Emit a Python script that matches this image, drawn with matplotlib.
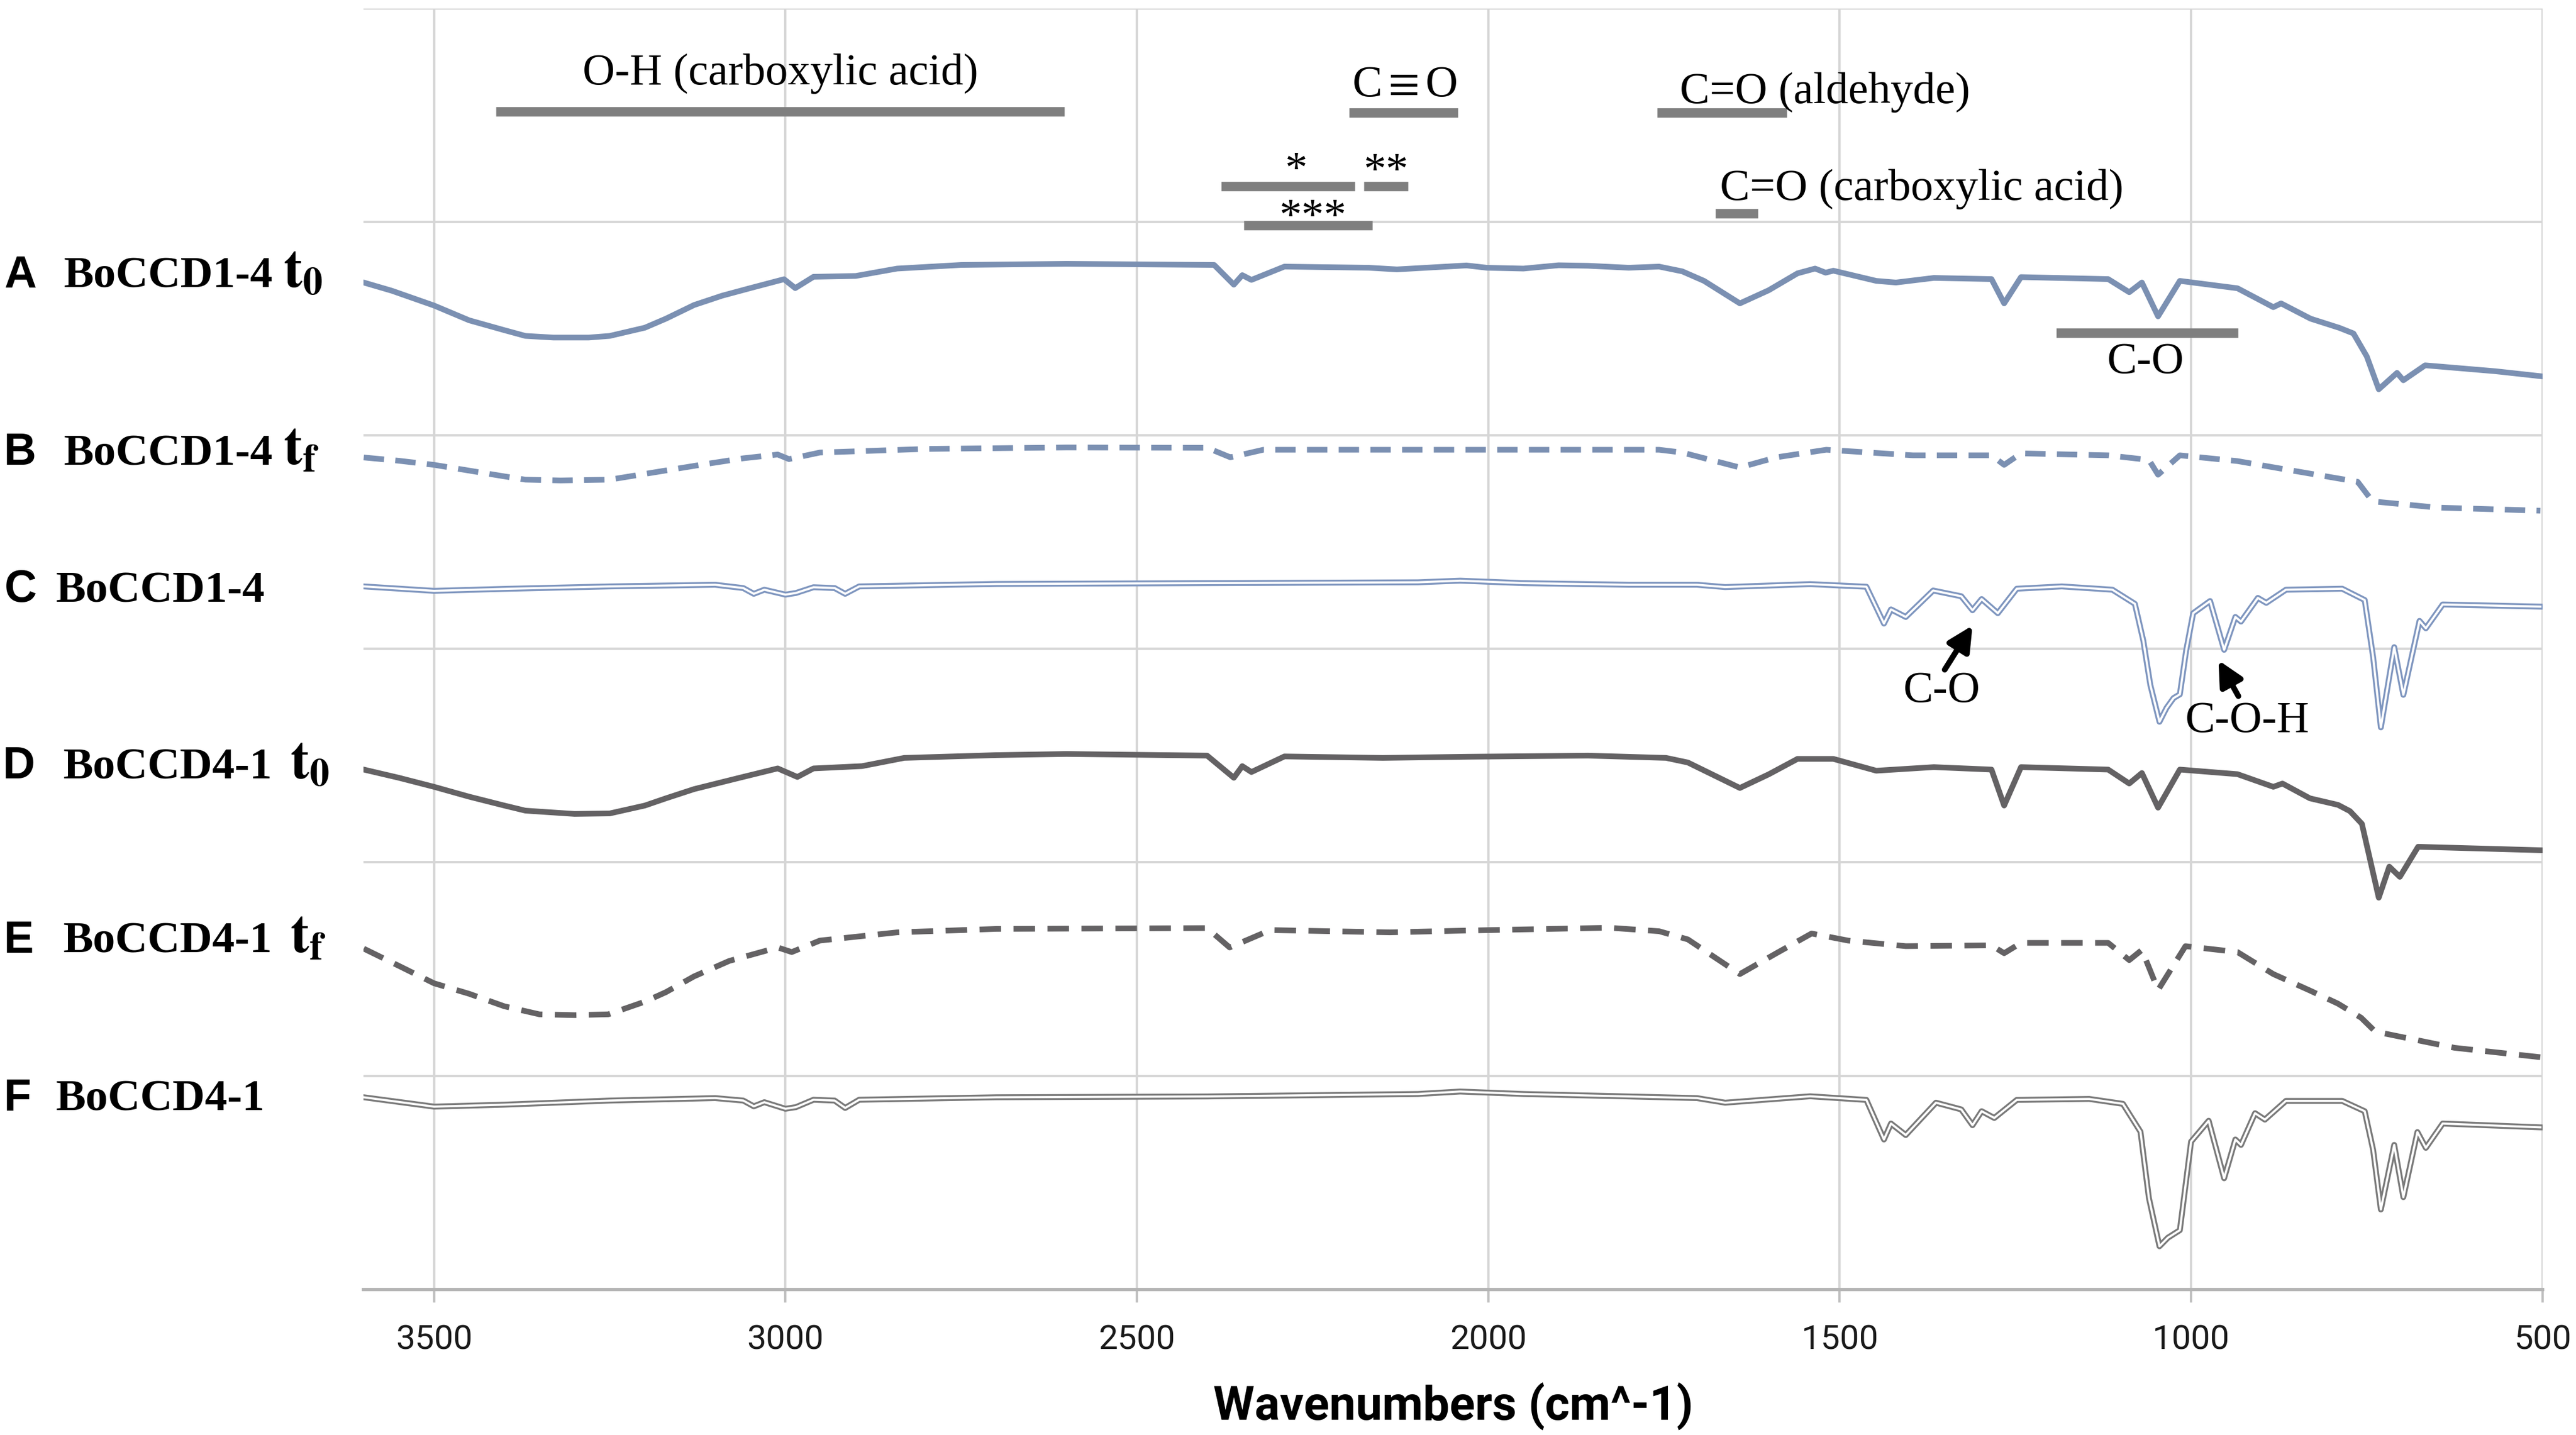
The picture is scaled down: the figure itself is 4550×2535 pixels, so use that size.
import numpy as np
import matplotlib.pyplot as plt

plt.rcParams["mathtext.fontset"] = "stix"

# FTIR spectra, stacked (wavenumber in cm^-1, offset signal in arbitrary units)
a_wn = [3600, 3560, 3500, 3450, 3400, 3370, 3330, 3280, 3250, 3200, 3170, 3130, 3090, 3050,
        3011, 3002, 2986, 2960, 2900, 2841, 2750, 2600, 2390, 2362, 2350, 2337, 2290, 2170,
        2130, 2031, 2002, 1950, 1900, 1858, 1800, 1757, 1724, 1693, 1642, 1601, 1560, 1535,
        1520, 1509, 1448, 1420, 1366, 1284, 1266, 1242, 1118, 1088, 1070, 1047, 1016, 934, 883,
        872, 830, 789, 769, 750, 733, 707, 698, 667, 567, 503]
a_y = [613, 608, 599, 590, 584, 580.5, 579.5, 579.5, 580.5, 585.5, 591, 599.3, 605, 609.6,
       614, 615, 609.6, 616.5, 617, 621.5, 623.7, 624.4, 623.7, 611.7, 617.5, 614.6, 622.7, 622,
       621, 623.4, 622, 621.5, 623.5, 623.2, 622, 622.7, 619.8, 614, 600.3, 608.3, 618.6, 621.5,
       619, 620.2, 614, 613, 615.8, 615.1, 600.3, 616.3, 615.1, 607.1, 613, 592.4, 614, 609.5, 598,
       600.3, 591, 585.4, 582, 568, 548, 558, 553.5, 562.6, 559, 556]

b_wn = [3600, 3550, 3500, 3450, 3400, 3370, 3320, 3250, 3200, 3121, 3060, 3011, 2995, 2951,
        2800, 2600, 2400, 2367, 2320, 2031, 1757, 1724, 1642, 1590, 1519, 1396, 1284, 1266,
        1242, 1118, 1060, 1047, 1016, 934, 872, 763, 743, 735, 650, 503]
b_y = [506.5, 504.5, 502, 498.5, 495, 493, 492.5, 493, 496.5, 502, 506, 508.3, 505.5, 509.5,
       511.7, 512.6, 512.4, 506.6, 511.2, 511.2, 511.2, 509.5, 500.4, 506.6, 511.2, 507.8, 507.8, 502,
       509, 507.8, 505, 496, 507.8, 504.3, 499.7, 491.7, 480.4, 479.5, 476, 474.1]

c_wn = [3600, 3500, 3400, 3250, 3100, 3060, 3045, 3030, 3000, 2985, 2960, 2930, 2915, 2895,
        2700, 2400, 2100, 2040, 1950, 1800, 1703, 1663, 1542, 1462, 1437, 1427, 1406, 1367,
        1327, 1311, 1298, 1275, 1248, 1184, 1112, 1080, 1068, 1058, 1045, 1035, 1025, 1016,
        1007, 997, 973, 953, 937, 929, 905, 893, 865, 785, 753, 741, 730, 711, 698, 675, 666,
        642, 503]
c_y = [428, 425.3, 426.5, 428, 429, 427, 423.5, 426, 423, 424, 427.5, 427, 423.5, 428,
       429.5, 430, 430.5, 431.5, 430, 429, 429, 427.6, 429.4, 427.8, 405.4, 414, 409.4, 425.5,
       422, 413.5, 420.3, 411.7, 426.6, 428, 426, 417.4, 395, 368, 345.6, 354, 360, 362.3,
       389, 411.7, 419.1, 389.4, 409.4, 406.6, 421, 418, 426, 426.6, 419.7, 385, 342.2, 391, 362, 407, 402.5,
       417, 415.7]

d_wn = [3600, 3550, 3500, 3450, 3400, 3370, 3300, 3250, 3200, 3170, 3130, 3070, 3011, 2983,
        2960, 2891, 2831, 2700, 2600, 2400, 2362, 2350, 2337, 2290, 2150, 2031, 1858, 1747,
        1716, 1642, 1601, 1560, 1509, 1448, 1366, 1284, 1266, 1242, 1118, 1088, 1070, 1047,
        1016, 934, 883, 870, 831, 791, 774, 757, 733, 718, 703, 677, 503]
d_y = [316.5, 311.5, 306, 300, 294.6, 291.5, 289.5, 289.8, 294.6, 299, 304.6, 311, 317.2, 312,
       317.2, 318.6, 323.6, 325.3, 326, 325, 311.5, 318.6, 315, 324.5, 323.6, 324.3, 325, 323.6,
       320.8, 305.3, 313.6, 323, 323, 315.8, 318, 316.5, 294.6, 318, 316.5, 308, 314.4, 293.3,
       316.5, 313.7, 306, 308, 299, 295, 291.2, 283.5, 238.5, 257.4, 251.2, 269.5, 267.4]

e_wn = [3600, 3550, 3500, 3450, 3400, 3350, 3300, 3252, 3200, 3170, 3130, 3080, 3011, 2991,
        2951, 2841, 2700, 2400, 2368, 2310, 2140, 2031, 1828, 1757, 1716, 1642, 1590, 1540,
        1488, 1406, 1284, 1266, 1242, 1118, 1088, 1070, 1047, 1008, 934, 883, 831, 791, 758,
        738, 625, 503]
e_y = [207.5, 197, 186.4, 180, 172.4, 167.5, 167, 167.5, 175.2, 181, 190.6, 200, 208.2, 205.4,
       212.4, 217.4, 219.5, 220, 208.2, 218.8, 217.4, 218.5, 220.2, 218.1, 213.1, 192, 204.7, 216.7,
       212.4, 209, 209.5, 204.7, 211, 211, 200.5, 206.7, 182.3, 209, 205.4, 192, 182, 174, 165.4,
       157, 147.1, 141.4]

f_wn = [3600, 3500, 3400, 3250, 3100, 3060, 3045, 3030, 3000, 2985, 2960, 2930, 2915, 2895,
        2700, 2400, 2100, 2040, 1950, 1800, 1703, 1663, 1542, 1462, 1437, 1427, 1406, 1363,
        1327, 1311, 1298, 1280, 1248, 1145, 1097, 1072, 1060, 1045, 1033, 1016, 1000, 975,
        953, 937, 929, 909, 895, 865, 785, 753, 741, 730, 711, 698, 678, 666, 642, 503]
f_y = [117, 111.3, 112.5, 115, 116.5, 115, 111.5, 114, 110, 111, 115.5, 115, 110.5, 115.5,
       117, 117.5, 119, 120.5, 119, 117.5, 116.5, 113.7, 117.6, 115.4, 91.3, 101, 94, 113.7,
       109.6, 100, 108.5, 104.4, 115.4, 116, 113, 96, 55.6, 26.3, 31.5, 36.1, 90, 102.7,
       67.7, 91.3, 88, 107.3, 103.4, 114.8, 114.8, 108.5, 85, 48.7, 88, 56.2, 95.8, 86.2, 101, 98.7]

# band markers drawn above the spectra
bar_start = [3412, 2198, 1760, 2380, 2177, 2348, 1677, 1192]
bar_end = [2603, 2043, 1575, 2190, 2114, 2165, 1616, 933]
bar_level = [717, 716.4, 716.4, 671.5, 671.5, 647.7, 655.2, 582.4]

band_text = ["O-H (carboxylic acid)", r"C$\equiv$O", "C=O (aldehyde)", "C=O (carboxylic acid)",
             "C-O", "C-O", "C-O-H"]
band_text_x = [3007, 2119, 1521, 1383, 1065, 1355, 920]
band_text_y = [733.5, 726.4, 722.4, 663.3, 558, 357.7, 339.4]

star_text = ["*", "**", "***"]
star_x = [2274, 2146, 2250]
star_top = [693, 692.6, 664.4]

# arrows in spectrum C: (tail wn, tail y, head wn, head y)
arrows = [(1350.6, 377.3, 1311, 404.2), (932.7, 361.2, 961, 383)]

row_letters = ["A", "B", "C", "D", "E", "F"]
row_names = ["BoCCD1-4", "BoCCD1-4", "BoCCD1-4", "BoCCD4-1", "BoCCD4-1", "BoCCD4-1"]
row_times = ["0", "f", None, "0", "f", None]

BLUE = "#7b90b2"
BLUE_LIGHT = "#7f96bf"
DARK = "#646264"
GREY = "#7a7a7a"
SERIF = ["Liberation Serif", "DejaVu Serif"]


def plot_spectra():
    fig = plt.figure(figsize=(4550 / 300, 2535 / 300), dpi=300)
    ax = fig.add_axes([0.1412, 0.10142, 0.8458, 0.89286])

    ax.plot(a_wn, a_y, color=BLUE, lw=2.4, zorder=3)
    ax.plot(b_wn, b_y, color=BLUE, lw=2.4, dashes=(3.6, 2.0), zorder=3)
    # double (outlined) traces for the reference powders
    ax.plot(c_wn, c_y, color=BLUE_LIGHT, lw=2.5, zorder=3)
    ax.plot(c_wn, c_y, color="white", lw=0.9, zorder=3)
    ax.plot(d_wn, d_y, color=DARK, lw=2.4, zorder=3)
    ax.plot(e_wn, e_y, color=DARK, lw=2.4, dashes=(3.8, 2.2), zorder=3)
    ax.plot(f_wn, f_y, color=GREY, lw=2.5, zorder=3)
    ax.plot(f_wn, f_y, color="white", lw=0.9, zorder=3)

    ax.hlines(bar_level, bar_start, bar_end, color="#7f7f7f", lw=4, zorder=4)
    for txt, x, y in zip(band_text, band_text_x, band_text_y):
        ax.text(x, y, txt, ha="center", va="baseline", fontsize=19, family=SERIF, zorder=5)
    for txt, x, y in zip(star_text, star_x, star_top):
        ax.text(x, y, txt, ha="center", va="top", fontsize=19, family=SERIF, zorder=5)
    for x0, y0, x1, y1 in arrows:
        ax.annotate("", xy=(x1, y1), xytext=(x0, y0),
                    arrowprops=dict(arrowstyle="-|>", color="black", lw=2.4,
                                    mutation_scale=22, shrinkA=0, shrinkB=0))

    ax.set_xlim(3600, 500)
    ax.set_ylim(0, 780)
    ax.set_xticks(np.arange(3500, 499, -500))
    ax.set_yticks(np.arange(0, 781, 130))
    ax.grid(True, color="#d6d6d6", lw=1.0, zorder=0)
    ax.set_axisbelow(True)
    for side in ["left", "right", "top"]:
        ax.spines[side].set_visible(False)
    ax.spines["bottom"].set_color("#b5b5b5")
    ax.spines["bottom"].set_linewidth(1.4)
    ax.tick_params(axis="y", length=0, labelleft=False)
    ax.tick_params(axis="x", direction="out", length=5.5, width=1, color="#c0c0c0",
                   pad=9, labelsize=14.5, labelcolor="#1a1a1a")
    for lbl in ax.get_xticklabels():
        lbl.set_family("Roboto")
    ax.set_xlabel("Wavenumbers (cm^-1)", fontsize=20, fontweight="bold",
                  family="Roboto", labelpad=11)

    # sample labels on the left
    letter_x = [0.0015, 0.0015, 0.0018, 0.0010, 0.0015, 0.0015]
    name_x = [0.0247, 0.0247, 0.0217, 0.0246, 0.0246, 0.0217]
    time_x = [0.1100, 0.1100, None, 0.1125, 0.1125, None]
    base_y = [0.7997, 0.6761, 0.5805, 0.4574, 0.3361, 0.2262]
    for i, letter in enumerate(row_letters):
        fig.text(letter_x[i], base_y[i], letter, fontsize=19, fontweight="bold",
                 family="Liberation Sans", va="baseline")
        fig.text(name_x[i], base_y[i], row_names[i], fontsize=19, fontweight="bold",
                 family=SERIF, va="baseline")
        if row_times[i] is not None:
            fig.text(time_x[i], base_y[i], r"$\mathbf{t}_{\mathbf{%s}}$" % row_times[i],
                     fontsize=24, va="baseline")

    fig.savefig("out.png", dpi=300)


if __name__ == "__main__":
    plot_spectra()
